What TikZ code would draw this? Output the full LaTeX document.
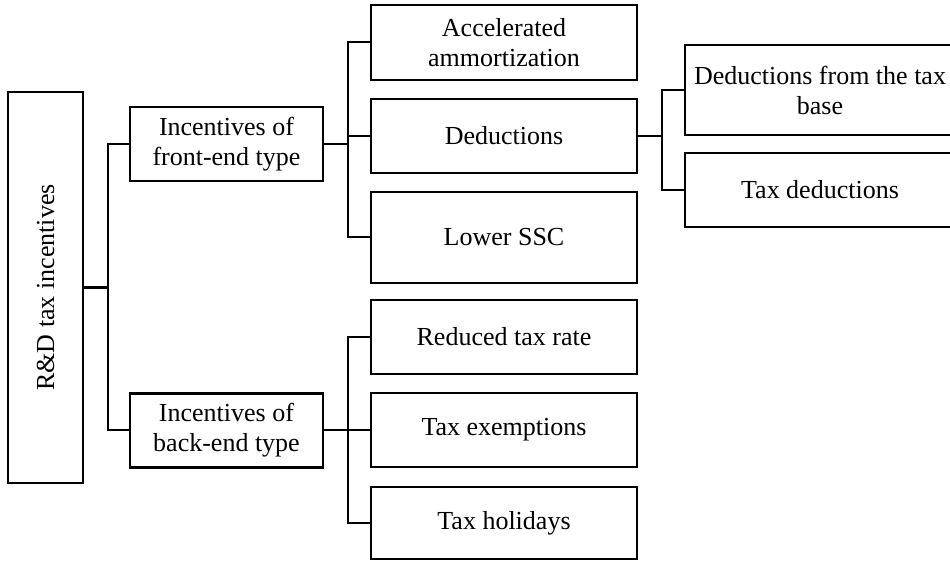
\documentclass[tikz,border=0pt]{standalone}
\usepackage{fontspec}
\setmainfont{Liberation Serif}
\usetikzlibrary{positioning, calc}

\begin{document}
\begin{tikzpicture}[
    x=0.5pt, y=-0.5pt,
    box/.style={rectangle, draw=black, line width=1.2pt, align=center,
                minimum width=133pt, minimum height=37pt, inner sep=2pt,
                font=\fontsize{13}{15}\selectfont},
    link/.style={line width=1pt},
]
\useasboundingbox (0,0) rectangle (950,561);

% Root
\node[box, rotate=90, minimum width=195.5pt, minimum height=37.5pt] (root) at (45.5,287.5) {R\&D tax incentives};

% Incentive types
\node[box, minimum width=96.5pt] (front) at (226.5,144) {Incentives of\\front-end type};
\node[box, minimum width=96.5pt] (back) at (226.5,430.5) {Incentives of\\back-end type};

% Front-end instruments
\node[box, minimum height=37.5pt] (accel) at (504,42.5) {Accelerated\\ammortization};
\node[box] (deduct) at (504,136) {Deductions};
\node[box, minimum height=45.5pt] (ssc) at (504,237.5) {Lower SSC};

% Back-end instruments
\node[box] (rate) at (504,337) {Reduced tax rate};
\node[box] (exempt) at (504,430) {Tax exemptions};
\node[box, minimum height=36pt] (holiday) at (504,523) {Tax holidays};

% Kinds of deductions
\node[box, minimum width=135pt, minimum height=45pt] (dbase) at (820,90) {Deductions from the tax\\base};
\node[box, minimum width=135pt] (dtax) at (820,190) {Tax deductions};

% Connectors
\draw[link, line width=1.5pt] (root.south) -- ++(24,0);
\draw[link] (root.south) ++(24,0) |- (front.west);
\draw[link] (root.south) ++(24,0) |- (back.west);

\draw[link] (front.east) -- ++(24,0) |- (accel.west);
\draw[link] (front.east) -- ++(24,0) |- (deduct.west);
\draw[link] (front.east) -- ++(24,0) |- (ssc.west);

\draw[link] (back.east) -- ++(24,0) |- (rate.west);
\draw[link] (back.east) -- ++(24,0) |- (exempt.west);
\draw[link] (back.east) -- ++(24,0) |- (holiday.west);

\draw[link] (deduct.east) -- ++(24,0) |- (dbase.west);
\draw[link] (deduct.east) -- ++(24,0) |- (dtax.west);

\end{tikzpicture}
\end{document}
